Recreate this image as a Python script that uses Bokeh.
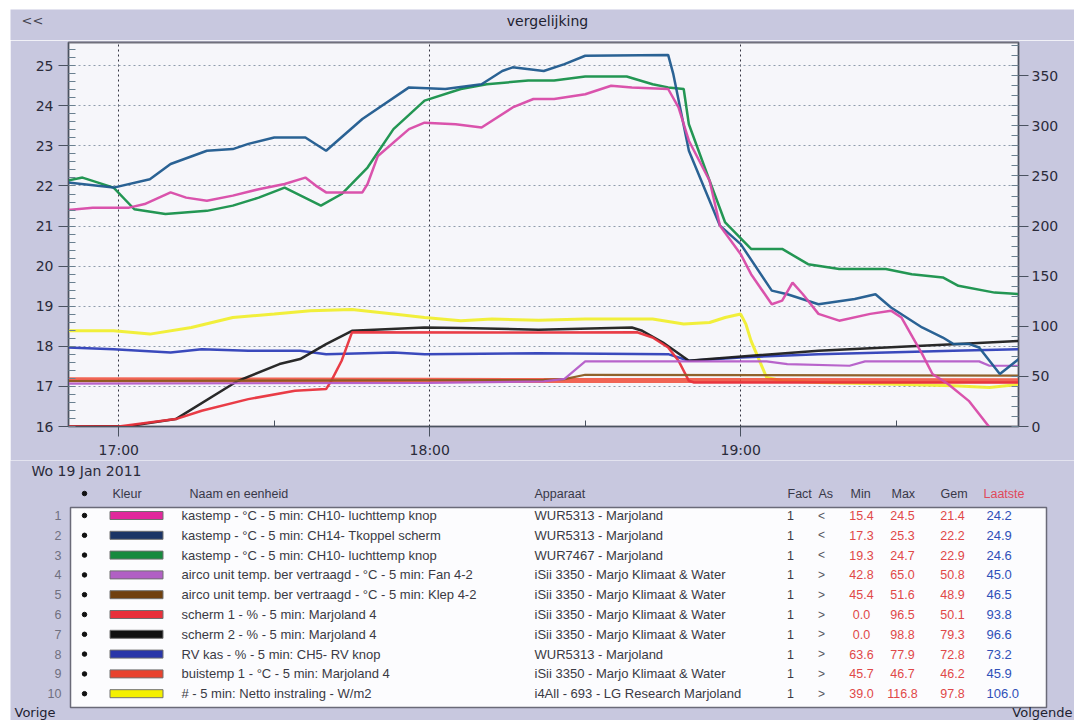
from bokeh.plotting import figure
from bokeh.models import Range1d, LinearAxis, SingleIntervalTicker, FixedTicker, Spacer
from bokeh.layouts import column, row
from bokeh.embed import file_html
from bokeh.resources import INLINE
from bokeh.core.properties import value

BG = "#c8c8df"
PLOT_BG = "#f6f6fa"
TXT = "#2b2b3a"

# ---------------- texts ----------------
title_text = "vergelijking"
nav_back = "<<"
date_text = "Wo  19  Jan 2011"
prev_text = "Vorige"
next_text = "Volgende"

# x axis: minutes after 17:00
x_tick_minutes = [0, 60, 120]
x_tick_labels = ["17:00", "18:00", "19:00"]
x_minor_minutes = [30, 90, 150]

# ---------------- series (time HH:MM, value) ----------------
# 1 kastemp CH10 WUR5313 (left axis, °C)
s1_t = ["16:50","16:55","17:02","17:05","17:10","17:13","17:17","17:22","17:27","17:32",
        "17:36","17:38","17:40","17:47","17:48","17:50","17:56","17:59","18:05","18:10",
        "18:16","18:20","18:24","18:30","18:35","18:39","18:46","18:48","18:50","18:54",
        "18:56","19:00","19:02","19:06","19:08","19:10","19:12","19:15","19:19","19:25",
        "19:29","19:31","19:35","19:37","19:40","19:44","19:48","19:52"]
s1_v = [21.40,21.46,21.46,21.55,21.84,21.71,21.63,21.76,21.92,22.05,
        22.21,22.01,21.84,21.84,22.05,22.75,23.42,23.58,23.54,23.46,
        23.96,24.17,24.17,24.29,24.50,24.46,24.42,23.96,23.13,22.13,
        21.01,20.30,19.80,19.05,19.14,19.59,19.30,18.81,18.64,18.81,
        18.89,18.72,17.81,17.31,17.06,16.64,15.98,15.50]
# 2 kastemp CH14 Tkoppel scherm (left)
s2_t = ["16:50","16:59","17:06","17:10","17:17","17:22","17:25","17:30","17:36","17:40",
        "17:47","17:56","18:03","18:10","18:14","18:16","18:22","18:26","18:30","18:46",
        "18:47","18:50","18:56","19:00","19:06","19:09","19:15","19:22","19:26","19:29",
        "19:35","19:39","19:41","19:44","19:46","19:50","19:54"]
s2_v = [22.09,21.96,22.17,22.55,22.88,22.92,23.05,23.21,23.21,22.88,
        23.67,24.46,24.42,24.54,24.87,24.96,24.87,25.04,25.25,25.27,
        24.79,22.88,21.01,20.55,19.39,19.30,19.05,19.18,19.30,18.97,
        18.47,18.22,18.06,18.06,17.97,17.31,17.72]
# 3 kastemp CH10 WUR7467 (left)
s3_t = ["16:50","16:53","16:59","17:03","17:09","17:17","17:22","17:27","17:32","17:39",
        "17:43","17:48","17:53","17:59","18:06","18:11","18:19","18:24","18:30","18:38",
        "18:43","18:46","18:49","18:50","18:54","18:57","19:02","19:08","19:13","19:19",
        "19:28","19:33","19:39","19:42","19:49","19:54"]
s3_v = [22.13,22.21,21.96,21.42,21.30,21.38,21.51,21.71,21.96,21.51,
        21.80,22.46,23.42,24.13,24.42,24.54,24.63,24.63,24.73,24.73,
        24.54,24.46,24.42,23.54,22.13,21.09,20.43,20.43,20.05,19.93,
        19.93,19.80,19.72,19.51,19.34,19.30]
# 4 airco unit temp Fan 4-2 (right)
s4_t = ["16:50","18:00","18:22","18:26","18:30","19:05","19:09","19:21","19:24","19:46","19:48","19:54"]
s4_v = [42.8,43.5,45.0,47.6,65.0,65.0,62.3,60.6,65.0,65.0,60.6,60.6]
# 5 airco unit temp Klep 4-2 (right)
s5_t = ["16:50","18:22","18:26","18:30","19:54"]
s5_v = [45.4,46.5,47.3,51.6,50.8]
# 6 scherm 1 % (right)
s6_t = ["16:50","17:00","17:11","17:16","17:25","17:34","17:40","17:41","17:43","17:45",
        "18:21","18:40","18:43","18:46","18:48","18:50","18:51","19:54"]
s6_v = [0.0,0.0,7.4,15.7,27.3,35.6,37.3,45.6,65.6,94.0,
        93.8,94.0,88.8,78.8,65.6,45.6,43.9,43.9]
# 7 scherm 2 % (right)
s7_t = ["16:50","17:02","17:11","17:23","17:31","17:35","17:40","17:45","17:59","18:06",
        "18:21","18:39","18:41","18:45","18:50","18:54","19:02","19:15","19:28","19:41","19:54"]
s7_v = [0.0,0.5,7.4,45.6,62.3,67.3,82.2,95.5,98.8,98.2,
        96.6,98.8,95.5,83.8,65.6,67.3,70.6,75.5,78.8,82.2,85.5]
# 8 RV kas % (right)
s8_t = ["16:50","16:59","17:10","17:16","17:25","17:35","17:40","17:53","17:59","18:21",
        "18:46","18:50","19:00","19:15","19:28","19:41","19:54"]
s8_v = [78.8,77.2,73.9,77.2,75.5,75.5,72.2,73.9,72.2,73.2,
        72.2,65.6,68.9,72.2,73.9,75.5,77.2]
# 9 buistemp 1 (right)
s9_t = ["16:50","17:30","18:00","18:21","19:00","19:54"]
s9_v = [46.7,46.5,46.2,45.9,45.8,45.7]
# 10 netto instraling W/m2 (right)
s10_t = ["16:50","16:59","17:06","17:14","17:22","17:30","17:37","17:45","17:53","17:59",
         "18:06","18:12","18:21","18:30","18:43","18:49","18:54","18:57","19:00","19:01",
         "19:02","19:05","19:08","19:15","19:28","19:41","19:48","19:54"]
s10_v = [95.5,95.5,92.2,98.8,108.8,112.2,115.5,116.8,112.2,108.8,
         105.5,107.2,106.0,107.2,107.2,102.2,103.8,108.8,112.2,102.2,
         85.5,48.9,45.6,43.9,42.3,40.6,39.0,42.3]

# ---------------- table ----------------
header = ["\u2022", "Kleur", "Naam en eenheid", "Apparaat", "Fact", "As", "Min", "Max", "Gem", "Laatste"]
row_numbers = ["1","2","3","4","5","6","7","8","9","10"]
names = ["kastemp - \u00b0C - 5 min: CH10- luchttemp knop",
         "kastemp - \u00b0C - 5 min: CH14- Tkoppel scherm",
         "kastemp - \u00b0C - 5 min: CH10- luchttemp knop",
         "airco unit temp. ber vertraagd - \u00b0C - 5 min: Fan 4-2",
         "airco unit temp. ber vertraagd - \u00b0C - 5 min: Klep 4-2",
         "scherm 1 - % - 5 min: Marjoland 4",
         "scherm 2 - % - 5 min: Marjoland 4",
         "RV kas - % - 5 min: CH5- RV knop",
         "buistemp 1 - \u00b0C - 5 min: Marjoland 4",
         "# - 5 min: Netto instraling - W/m2"]
devices = ["WUR5313 - Marjoland", "WUR5313 - Marjoland", "WUR7467 - Marjoland",
           "iSii 3350 - Marjo Klimaat & Water", "iSii 3350 - Marjo Klimaat & Water",
           "iSii 3350 - Marjo Klimaat & Water", "iSii 3350 - Marjo Klimaat & Water",
           "WUR5313 - Marjoland", "iSii 3350 - Marjo Klimaat & Water",
           "i4All - 693 - LG Research Marjoland"]
fact = ["1"] * 10
axis_side = ["<", "<", "<", ">", ">", ">", ">", ">", ">", ">"]
mins = ["15.4", "17.3", "19.3", "42.8", "45.4", "0.0", "0.0", "63.6", "45.7", "39.0"]
maxs = ["24.5", "25.3", "24.7", "65.0", "51.6", "96.5", "98.8", "77.9", "46.7", "116.8"]
gems = ["21.4", "22.2", "22.9", "50.8", "48.9", "50.1", "79.3", "72.8", "46.2", "97.8"]
last = ["24.2", "24.9", "24.6", "45.0", "46.5", "93.8", "96.6", "73.2", "45.9", "106.0"]
swatch_colors = ["#e0289c", "#1b3566", "#178a3e", "#b160c4", "#70400f",
                 "#e8303a", "#111111", "#2a36a8", "#e8422e", "#f4f000"]
line_colors = ["#d84aa8", "#1f5a8e", "#17904a", "#b45cc8", "#8a5a20",
               "#e8323c", "#1e1e1e", "#2f3fb8", "#f04a36", "#f0ee30"]
line_widths = [2.5, 2.5, 2.5, 2.2, 2.2, 2.5, 2.5, 2.5, 5, 3]
on_right = [False, False, False, True, True, True, True, True, True, True]

series_t = [s1_t, s2_t, s3_t, s4_t, s5_t, s6_t, s7_t, s8_t, s9_t, s10_t]
series_v = [s1_v, s2_v, s3_v, s4_v, s5_v, s6_v, s7_v, s8_v, s9_v, s10_v]


def to_min(ts):
    return [(int(s[:2]) - 17) * 60 + int(s[3:]) for s in ts]


FONT = "DejaVu Sans"
TFONT = "Liberation Sans"
W = 1064          # panel width (page x 10..1074)
OX = 10           # panel x offset on the page

# ---------------- top strip (page y 9..40) ----------------
TOPH = 31
top = figure(width=W, height=TOPH, x_range=Range1d(0, W), y_range=Range1d(TOPH, 0),
             output_backend="svg", toolbar_location=None, min_border=0,
             x_axis_location=None, y_axis_location=None, frame_align=False,
             background_fill_color=BG, border_fill_color=BG, outline_line_color=None)
top.grid.visible = False
top.text(x=[547 - OX], y=[11], text=[title_text], text_font=value(FONT),
         text_font_size=value("14px"), text_align="center", text_baseline="middle",
         text_color="#222230")
top.text(x=[21 - OX], y=[11], text=[nav_back], text_font=value(FONT),
         text_font_size=value("13px"), text_align="left", text_baseline="middle",
         text_color="#444450")

# ---------------- chart (page y 40..460) ----------------
p = figure(width=W, height=420, x_range=Range1d(-9.7, 173.6), y_range=Range1d(16, 25.58),
           output_backend="svg", toolbar_location=None, frame_align=False,
           min_border_left=68 - OX, min_border_right=56, min_border_top=2, min_border_bottom=34,
           background_fill_color=PLOT_BG, border_fill_color=BG,
           outline_line_color="#70707c", outline_line_width=2)
p.extra_y_ranges = {"right": Range1d(0, 383.2)}
raxis = LinearAxis(y_range_name="right", ticker=SingleIntervalTicker(interval=50, num_minor_ticks=5))
p.add_layout(raxis, "right")

p.yaxis[0].ticker = SingleIntervalTicker(interval=1, num_minor_ticks=5)
for ax in [p.yaxis[0], raxis]:
    ax.major_tick_out = 10
    ax.major_tick_in = 0
    ax.minor_tick_in = 7
    ax.minor_tick_out = 0
    ax.axis_line_color = "#4a5260"
    ax.major_tick_line_color = "#4a5260"
    ax.minor_tick_line_color = "#6a8090"
    ax.major_label_text_font = FONT
    ax.major_label_text_font_size = "14px"
    ax.major_label_text_color = TXT
raxis.major_label_standoff = 3

xa = p.xaxis[0]
xa.ticker = FixedTicker(ticks=x_tick_minutes, minor_ticks=x_minor_minutes)
xa.major_label_overrides = {t: l for t, l in zip(x_tick_minutes, x_tick_labels)}
xa.major_tick_out = 10
xa.major_tick_in = 0
xa.minor_tick_in = 6
xa.minor_tick_out = 0
xa.axis_line_color = "#4a5260"
xa.major_tick_line_color = "#4a5260"
xa.minor_tick_line_color = "#4a5260"
xa.major_label_text_font = FONT
xa.major_label_text_font_size = "14px"
xa.major_label_text_color = TXT

p.xgrid.ticker = FixedTicker(ticks=x_tick_minutes)
p.xgrid.grid_line_color = "#333340"
p.xgrid.grid_line_dash = "2 3"
p.xgrid.grid_line_width = 1
p.ygrid.ticker = SingleIntervalTicker(interval=1)
p.ygrid.grid_line_color = "#8f9cac"
p.ygrid.grid_line_dash = "2 3"
p.ygrid.grid_line_width = 1

for i in reversed(range(10)):
    kw = {"y_range_name": "right"} if on_right[i] else {}
    p.line(to_min(series_t[i]), series_v[i], line_color=line_colors[i],
           line_width=line_widths[i], line_alpha=0.95 if i != 8 else 0.85, **kw)

# ---------------- table (page y 460..720) ----------------
TH = 260
tb = figure(width=W, height=TH, x_range=Range1d(OX, W + OX), y_range=Range1d(TH, 0),
            output_backend="svg", toolbar_location=None, min_border=0, frame_align=False,
            x_axis_location=None, y_axis_location=None,
            background_fill_color=BG, border_fill_color=BG, outline_line_color=None)
tb.grid.visible = False

tb.text(x=[31], y=[10], text=[date_text], text_font=value(FONT), text_font_size=value("14px"),
        text_align="left", text_baseline="middle", text_color=TXT)

hy = 33
hx_text = [112, 189, 534, 787, 818, 850, 891, 940]
tb.text(x=hx_text, y=[hy] * 8, text=header[1:9], text_font=value(TFONT),
        text_font_size=value("12.5px"), text_align="left", text_baseline="middle",
        text_color="#383848")
tb.scatter(x=[84], y=[hy], size=4.5, color="#111111")
tb.text(x=[983], y=[hy], text=[header[9]], text_font=value(TFONT),
        text_font_size=value("12.5px"), text_align="left", text_baseline="middle",
        text_color="#e04a5a")

# white box
tb.quad(left=[70], right=[1046], top=[47], bottom=[247], fill_color="#fcfcfe",
        line_color="#6a6a78", line_width=1.5)

ry = [55 + 19.8 * i for i in range(10)]
tb.text(x=[61] * 10, y=ry, text=row_numbers, text_font=value(TFONT), text_font_size=value("12.5px"),
        text_align="right", text_baseline="middle", text_color="#707080")
tb.scatter(x=[84] * 10, y=ry, size=4.5, color="#111111")
tb.rect(x=[136] * 10, y=ry, width=53, height=8, fill_color=swatch_colors, line_color="#707070",
        line_width=1)
tb.text(x=[181] * 10, y=ry, text=names, text_font=value(TFONT), text_font_size=value("13px"),
        text_align="left", text_baseline="middle", text_color="#3a3a44")
tb.text(x=[534] * 10, y=ry, text=devices, text_font=value(TFONT), text_font_size=value("13px"),
        text_align="left", text_baseline="middle", text_color="#3a3a44")
tb.text(x=[790] * 10, y=ry, text=fact, text_font=value(TFONT), text_font_size=value("12.5px"),
        text_align="center", text_baseline="middle", text_color="#3a3a44")
tb.text(x=[821] * 10, y=ry, text=axis_side, text_font=value(TFONT), text_font_size=value("12px"),
        text_align="center", text_baseline="middle", text_color="#555560")
tb.text(x=[861] * 10, y=ry, text=mins, text_font=value(TFONT), text_font_size=value("12.5px"),
        text_align="center", text_baseline="middle", text_color="#e04848")
tb.text(x=[902] * 10, y=ry, text=maxs, text_font=value(TFONT), text_font_size=value("12.5px"),
        text_align="center", text_baseline="middle", text_color="#e04848")
tb.text(x=[952] * 10, y=ry, text=gems, text_font=value(TFONT), text_font_size=value("12.5px"),
        text_align="center", text_baseline="middle", text_color="#e04848")
tb.text(x=[986] * 10, y=ry, text=last, text_font=value(TFONT), text_font_size=value("13px"),
        text_align="left", text_baseline="middle", text_color="#3050b8")

tb.text(x=[14], y=[TH - 1], text=[prev_text], text_font=value(FONT), text_font_size=value("13px"),
        text_align="left", text_baseline="bottom", text_color="#222230")
tb.text(x=[1072], y=[TH - 1], text=[next_text], text_font=value(FONT), text_font_size=value("13px"),
        text_align="right", text_baseline="bottom", text_color="#222230")

layout = column(Spacer(width=1074, height=9),
                row(Spacer(width=OX, height=711), column(top, p, tb)))
open("out.html", "w").write(file_html(layout, INLINE))
